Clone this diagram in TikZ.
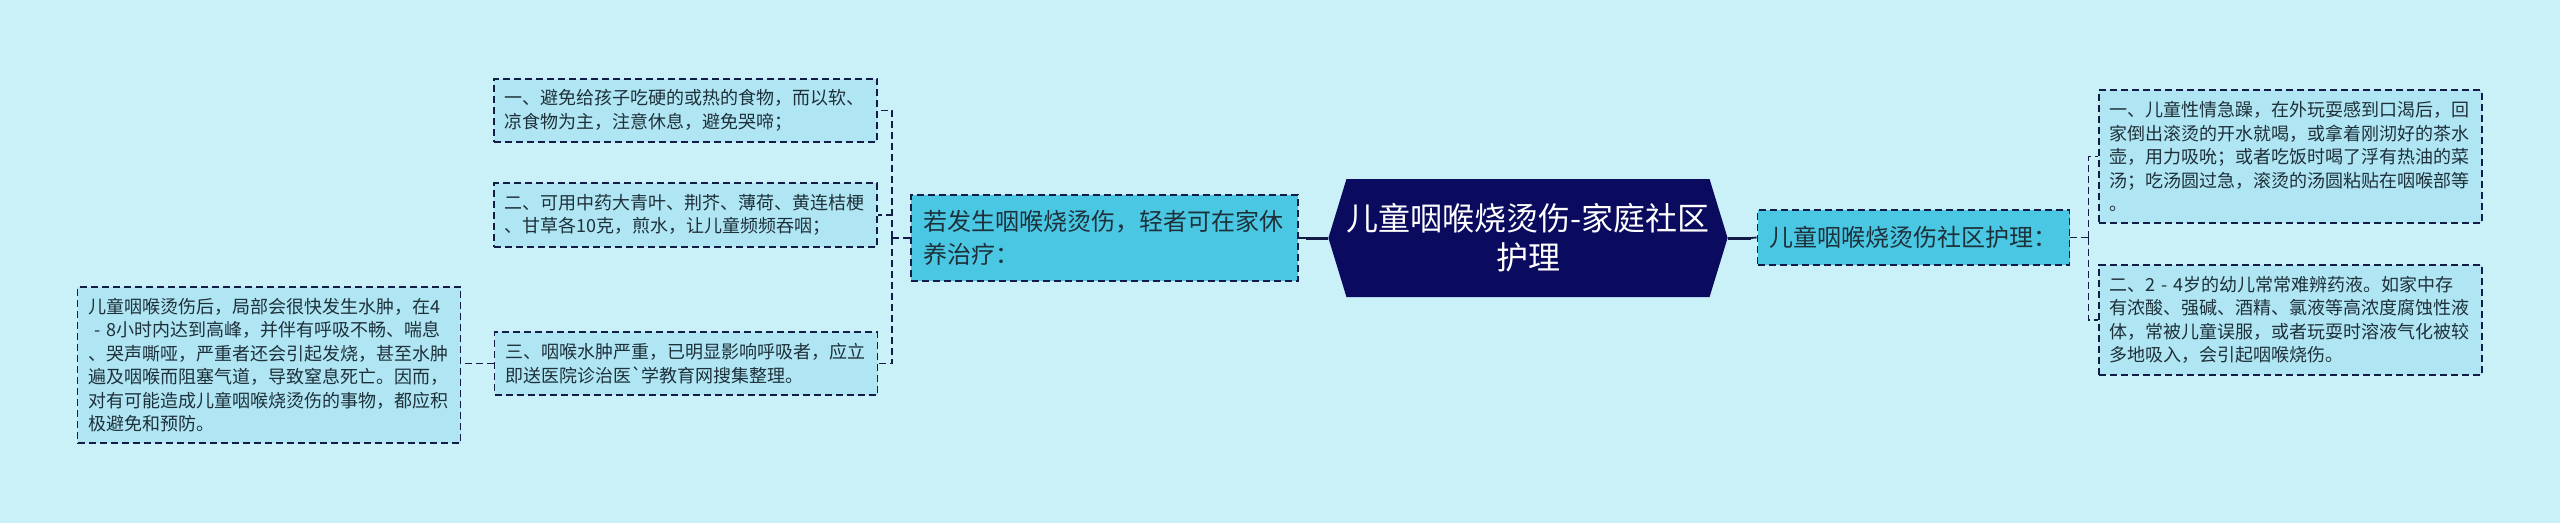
\documentclass[tikz,border=0pt]{standalone}
\usepackage{fontspec}
\newfontfamily\cjk{Noto Sans CJK SC}
\usetikzlibrary{shapes.symbols}

\definecolor{bgcyan}{RGB}{202,240,248}
\definecolor{leaffill}{RGB}{176,230,243}
\definecolor{branchfill}{RGB}{74,200,227}
\definecolor{hubnavy}{RGB}{10,10,94}
\definecolor{edgenavy}{RGB}{18,28,70}
\definecolor{inktext}{RGB}{30,48,58}

\tikzset{every picture/.style={line width=0.75pt}}
\tikzset{
  leaf/.style={draw=edgenavy, line width=1.8, dash pattern=on 7pt off 4pt, fill=leaffill, text=inktext, font=\cjk\fontsize{18}{23.5}\selectfont, align=left, text width=362, inner xsep=10.5, inner ysep=11},
  branch/.style={draw=edgenavy, line width=1.8, dash pattern=on 7pt off 4pt, fill=branchfill, text=inktext, font=\cjk\fontsize{24}{33}\selectfont, align=left, inner xsep=12, inner ysep=0},
  hubbox/.style={shape=signal, signal to=west and east, signal pointer angle=146, fill=hubnavy, text=white, font=\cjk\fontsize{32}{39}\selectfont, align=center, minimum width=376, minimum height=118, inner sep=0},
  link/.style={draw=edgenavy, line width=1.8, dash pattern=on 7pt off 4pt},
  trunk/.style={draw=edgenavy, line width=3}
}

\begin{document}
\begin{tikzpicture}[x=1pt,y=1pt,yscale=-1,xscale=1]
	%set diagram left start at 0, and has height of 523
	\useasboundingbox (0,0) rectangle (2560,523);
	%Shape: Rectangle [background]
	\fill [bgcyan] (0,0) rectangle (2560,523);

	% Text Node
	\node [hubbox] (hub) at (1528,238) {儿童咽喉烧烫伤-家庭社区\\护理};
	% Text Node
	\node [branch, text width=363, minimum width=387, minimum height=86] (cure) at (1104.5,238) {若发生咽喉烧烫伤，轻者可在家休\\养治疗：};
	% Text Node
	\node [branch, minimum width=303, minimum height=55] (care) at (1913.5,237.5) {儿童咽喉烧烫伤社区护理：};

	% Text Node
	\node [leaf] (avoid) at (685.5,110.5) {一、避免给孩子吃硬的或热的食物，而以软、\\凉食物为主，注意休息，避免哭啼；};
	% Text Node
	\node [leaf] (herb) at (685.5,215) {二、可用中药大青叶、荆芥、薄荷、黄连桔梗\\、甘草各10克，煎水，让儿童频频吞咽；};
	% Text Node
	\node [leaf] (swell) at (686,363.5) {三、咽喉水肿严重，已明显影响呼吸者，应立\\即送医院诊治医`学教育网搜集整理。};
	% Text Node
	\node [leaf] (burnt) at (269,365) {儿童咽喉烫伤后，局部会很快发生水肿，在4\\~- 8小时内达到高峰，并伴有呼吸不畅、喘息\\、哭声嘶哑，严重者还会引起发烧，甚至水肿\\遍及咽喉而阻塞气道，导致窒息死亡。因而，\\对有可能造成儿童咽喉烧烫伤的事物，都应积\\极避免和预防。};

	% Text Node
	\node [leaf] (thirst) at (2290.5,156.5) {一、儿童性情急躁，在外玩耍感到口渴后，回\\家倒出滚烫的开水就喝，或拿着刚沏好的茶水\\壶，用力吸吮；或者吃饭时喝了浮有热油的菜\\汤；吃汤圆过急，滚烫的汤圆粘贴在咽喉部等\\。};
	% Text Node
	\node [leaf] (acid) at (2290.5,320) {二、2 - 4岁的幼儿常常难辨药液。如家中存\\有浓酸、强碱、酒精、氯液等高浓度腐蚀性液\\体，常被儿童误服，或者玩耍时溶液气化被较\\多地吸入，会引起咽喉烧伤。};

	%Straight Lines
	\draw [trunk] (hub.west) -- ++(-22,0) coordinate (hubL);
	\draw [link] (hubL) -- (cure.east);
	\draw [trunk] (hub.east) -- ++(23,0) coordinate (hubR);
	\draw [link] (hubR) -- (care.west);

	%Straight Lines
	\draw [link] (cure.west) -- ++(-18,0) coordinate (cureJ);
	\draw [link] (cureJ) |- (avoid.east);
	\draw [link] (cureJ) |- (herb.east);
	\draw [link] (cureJ) |- (swell.east);
	\draw [link] (swell.west) -- (swell.west -| burnt.east);

	%Straight Lines
	\draw [link] (care.east) -- ++(18,0) coordinate (careJ);
	\draw [link] (careJ) |- (thirst.west);
	\draw [link] (careJ) |- (acid.west);

\end{tikzpicture}
\end{document}
